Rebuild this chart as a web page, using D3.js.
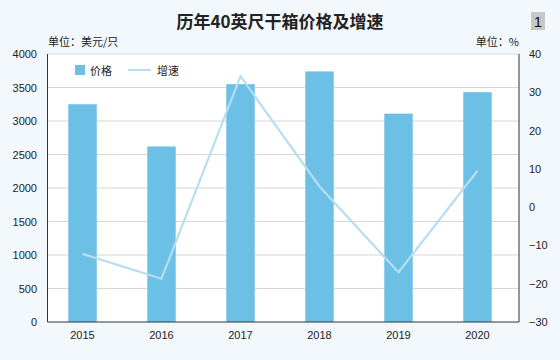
<!DOCTYPE html>
<html><head><meta charset="utf-8">
<script src="https://cdn.jsdelivr.net/npm/d3@7"></script>
<style>
body{margin:0;background:#f3f8fc;}
svg{display:block;font-family:"Noto Sans CJK SC","Liberation Sans",sans-serif;}
</style></head><body>
<svg id="c" width="560" height="360"></svg>
<script>
const years = ["2015","2016","2017","2018","2019","2020"];
const price = [3250, 2620, 3550, 3740, 3110, 3430];
const growth = [-12.2, -18.7, 34.2, 5.4, -17.0, 9.5];
const leftTicks = [0,500,1000,1500,2000,2500,3000,3500,4000];
const rightTicks = [-30,-20,-10,0,10,20,30,40];

const svg = d3.select("#c");
svg.append("rect").attr("width",560).attr("height",360).attr("fill","#f3f8fc");
const L=47.5, R=519, T=54, B=322;
svg.append("rect").attr("x",L).attr("y",T).attr("width",R-L).attr("height",B-T).attr("fill","#fff");

const x = d3.scaleBand().domain(years).range([43,517]).paddingInner(0.64).paddingOuter(0.32);
const yL = d3.scaleLinear().domain([0,4000]).range([B,T]);
const yR = d3.scaleLinear().domain([-30,40]).range([B,T]);

// grid
svg.append("g").selectAll("line").data(leftTicks.slice(1)).join("line")
  .attr("x1",L).attr("x2",R).attr("y1",d=>yL(d)).attr("y2",d=>yL(d))
  .attr("stroke","#d6d6d6").attr("stroke-width",1);

// bars
svg.append("g").selectAll("rect").data(years).join("rect")
  .attr("x",d=>x(d)).attr("width",x.bandwidth())
  .attr("y",(d,i)=>yL(price[i])).attr("height",(d,i)=>B-yL(price[i]))
  .attr("fill","#6cc0e5");

// line
const cx = d=>x(d)+x.bandwidth()/2;
svg.append("path").datum(years)
  .attr("d", d3.line().x(d=>cx(d)).y((d,i)=>yR(growth[i])))
  .attr("fill","none").attr("stroke","#b6def2").attr("stroke-width",2.2);

// axes lines
svg.append("line").attr("x1",L).attr("x2",L).attr("y1",T).attr("y2",B).attr("stroke","#333");
svg.append("line").attr("x1",R).attr("x2",R).attr("y1",T).attr("y2",B).attr("stroke","#333");
svg.append("line").attr("x1",L).attr("x2",R).attr("y1",B).attr("y2",B).attr("stroke","#333");

// axis labels
const lab = {"font-size":"11px","fill":"#222"};
svg.append("g").selectAll("text").data(leftTicks).join("text")
  .attr("x",37).attr("y",d=>yL(d)+4).attr("text-anchor","end")
  .attr("font-size","11px").attr("fill","#222").attr("font-family","Liberation Sans, sans-serif")
  .text(d=>d);
svg.append("g").selectAll("text").data(rightTicks).join("text")
  .attr("x",529).attr("y",d=>yR(d)+4).attr("text-anchor","start")
  .attr("font-size","11px").attr("fill","#222").attr("font-family","Liberation Sans, sans-serif")
  .text(d=>d<0?"\u2212"+Math.abs(d):d);
svg.append("g").selectAll("text").data(years).join("text")
  .attr("x",d=>cx(d)).attr("y",339).attr("text-anchor","middle")
  .attr("font-size","11px").attr("fill","#222").attr("font-family","Liberation Sans, sans-serif")
  .text(d=>d);

// title
svg.append("text").attr("x",280).attr("y",28).attr("text-anchor","middle")
  .attr("font-size","17px").attr("font-weight","bold").attr("fill","#222")
  .text("历年40英尺干箱价格及增速");
svg.append("rect").attr("x",531).attr("y",12).attr("width",14).attr("height",18).attr("fill","#c8c8c8");
svg.append("text").attr("x",538).attr("y",27).attr("text-anchor","middle")
  .attr("font-size","15px").attr("fill","#111").attr("font-family","Liberation Sans, sans-serif").text("1");

svg.append("text").attr("x",48).attr("y",46).attr("font-size","11px").attr("fill","#222").text("单位：美元/只");
svg.append("text").attr("x",519).attr("y",46).attr("text-anchor","end").attr("font-size","11px").attr("fill","#222").text("单位：%");

// legend
svg.append("rect").attr("x",75).attr("y",65).attr("width",10).attr("height",10).attr("fill","#6cc0e5");
svg.append("text").attr("x",90).attr("y",74.5).attr("font-size","11px").attr("fill","#222").text("价格");
svg.append("line").attr("x1",128).attr("x2",151).attr("y1",70).attr("y2",70).attr("stroke","#b6def2").attr("stroke-width",2);
svg.append("text").attr("x",157).attr("y",74.5).attr("font-size","11px").attr("fill","#222").text("增速");
</script></body></html>
